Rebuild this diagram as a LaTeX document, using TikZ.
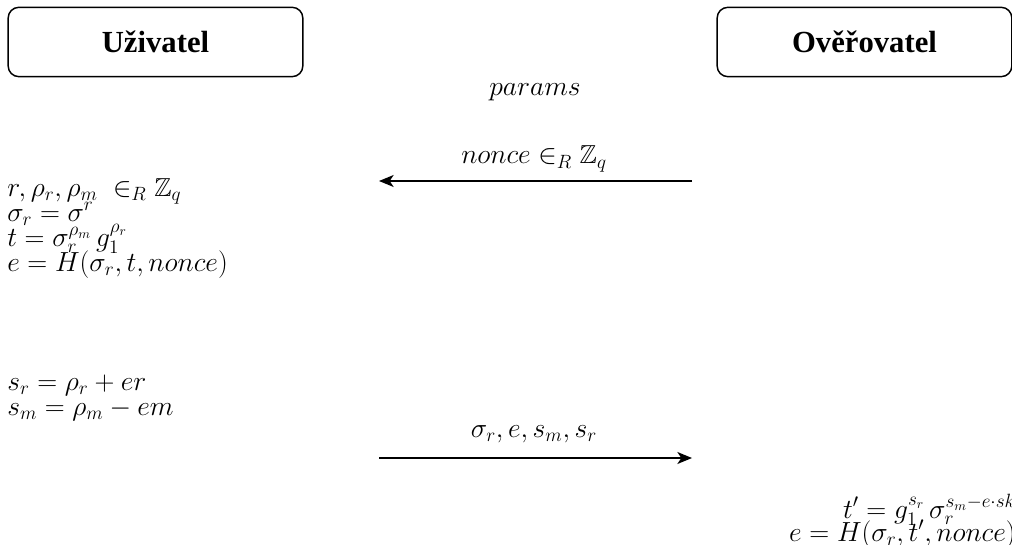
\documentclass[tikz,border=0pt]{standalone}
\usepackage{amsmath,amssymb}
\usepackage{fontspec}
\setmainfont{Liberation Serif}
\usetikzlibrary{arrows.meta}

\tikzset{
  party/.style={draw, line width=1.1pt, rounded corners=8pt, minimum width=221pt,
    minimum height=52pt, font=\fontsize{23}{27}\selectfont\bfseries},
  formula/.style={inner sep=0pt, font=\fontsize{19.5}{24}\selectfont},
  msg/.style={line width=1.1pt, -{Stealth[length=11pt,width=9pt,inset=3pt]}}
}

\begin{document}
\begin{tikzpicture}[x=0.75pt, y=-0.75pt]
  \useasboundingbox (0,0) rectangle (1012,545);
  \clip (0,0) rectangle (1012,545);

  % parties
  \node[party] (user) at (155.5, 42) {Uživatel};
  \node[party] (verifier) at (864.5, 42) {Ověřovatel};

  \node[formula] (params) at (535, 92) {$params$};

  % challenge
  \coordinate (chalStart) at (692, 181);
  \coordinate (chalEnd) at (379, 181);
  \draw[msg] (chalStart) -- (chalEnd);
  \node[formula, anchor=base] (chalLabel) at (534, 164) {$nonce \in_R \mathbb{Z}_q$};

  % commitment on the user side
  \node[formula, anchor=base west] (pick) at (7, 196) {$r, \rho_r, \rho_m \;\in_R \mathbb{Z}_q$};
  \node[formula, anchor=base west] (blind) at (7, 221) {$\sigma_r = \sigma^r$};
  \node[formula, anchor=base west] (commit) at (7, 246) {$t = \sigma_r^{\rho_m}\, g_1^{\rho_r}$};
  \node[formula, anchor=base west] (hash) at (7, 271) {$e = H(\sigma_r, t, nonce)$};

  % responses
  \node[formula, anchor=base west] (respR) at (7, 390) {$s_r = \rho_r + er$};
  \node[formula, anchor=base west] (respM) at (7, 415) {$s_m = \rho_m - em$};

  % response message
  \coordinate (respStart) at (379, 458);
  \coordinate (respEnd) at (692, 458);
  \draw[msg] (respStart) -- (respEnd);
  \node[formula, anchor=base] (respLabel) at (534, 437) {$\sigma_r, e, s_m, s_r$};

  % verification
  \node[formula, anchor=base east] (recompute) at (1016, 518) {$t' = g_1^{s_r}\, \sigma_r^{s_m - e\cdot sk}$};
  \node[formula, anchor=base east] (check) at (1016, 541) {$e = H(\sigma_r, t', nonce)$};
\end{tikzpicture}
\end{document}
